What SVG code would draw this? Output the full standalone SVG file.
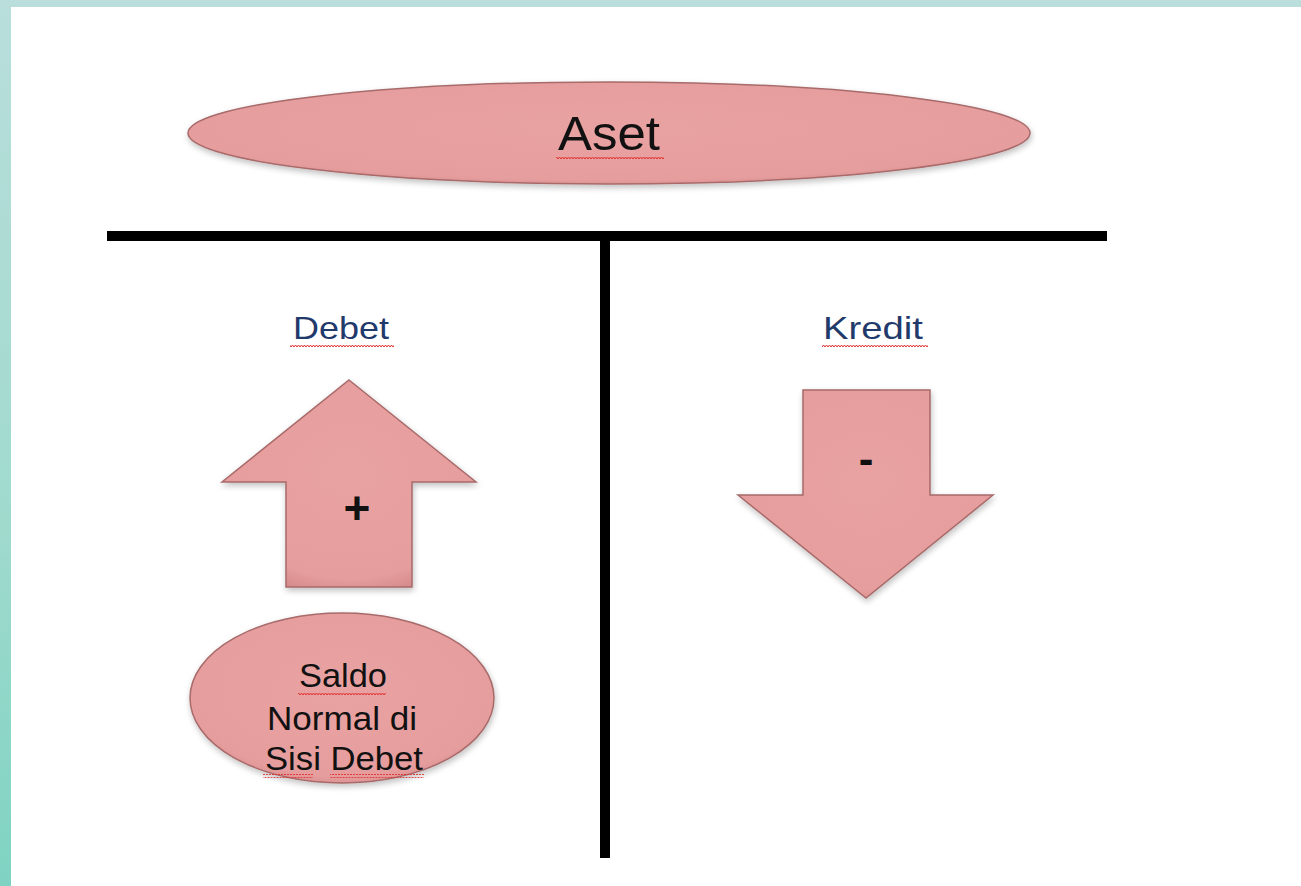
<svg xmlns="http://www.w3.org/2000/svg" width="1301" height="886" viewBox="0 0 1301 886">
<defs>
<linearGradient id="bg" x1="0" y1="0" x2="0" y2="1">
<stop offset="0" stop-color="#b9dedb"/>
<stop offset="0.6" stop-color="#9fdacd"/>
<stop offset="1" stop-color="#7fd3c2"/>
</linearGradient>
<radialGradient id="pink" cx="0.5" cy="0.45" r="0.6">
<stop offset="0" stop-color="#e9a2a2"/>
<stop offset="0.85" stop-color="#e69d9d"/>
<stop offset="1" stop-color="#d48a8a"/>
</radialGradient>
<filter id="sh" x="-10%" y="-10%" width="120%" height="130%">
<feGaussianBlur in="SourceAlpha" stdDeviation="3"/>
<feOffset dx="1" dy="3"/>
<feComponentTransfer><feFuncA type="linear" slope="0.25"/></feComponentTransfer>
<feMerge><feMergeNode/><feMergeNode in="SourceGraphic"/></feMerge>
</filter>
<pattern id="wavy" width="6" height="4" patternUnits="userSpaceOnUse">
<path d="M0 3 L1.5 1 L3 3 L4.5 1 L6 3" fill="none" stroke="#e03030" stroke-width="1"/>
</pattern>
</defs>
<style>
.shape{fill:url(#pink);stroke:#a86a6a;stroke-width:1.5;filter:url(#sh)}
.lbl{font-family:"Liberation Sans",Arial,sans-serif;fill:#111}
.hdr{font-family:"Liberation Sans",Arial,sans-serif;fill:#1f3a6b;font-size:32px}
.bar{fill:#000}
.wv{fill:url(#wavy)}
</style>
<rect x="0" y="0" width="1301" height="886" fill="url(#bg)"/>
<rect x="11" y="7" width="1290" height="879" fill="#ffffff"/>

<g id="connectors">
<rect class="bar" x="107" y="231" width="1000" height="10"/>
<rect class="bar" x="600" y="236" width="10" height="622"/>
</g>

<g id="aset">
<ellipse class="shape" cx="609" cy="133" rx="421" ry="51"/>
<text class="lbl" x="558" y="150" font-size="48" textLength="102" lengthAdjust="spacingAndGlyphs">Aset</text>
<rect class="wv" x="556" y="156" width="108" height="4"/>
</g>

<g id="debet">
<text class="hdr" x="293" y="339" textLength="96" lengthAdjust="spacingAndGlyphs">Debet</text>
<rect class="wv" x="290" y="343" width="104" height="4"/>
</g>

<g id="kredit">
<text class="hdr" x="823" y="339" textLength="100" lengthAdjust="spacingAndGlyphs">Kredit</text>
<rect class="wv" x="822" y="343" width="106" height="4"/>
</g>

<g id="arrow-up">
<polygon class="shape" points="349,380 476,482 412,482 412,587 286,587 286,482 222,482"/>
<text class="lbl" x="357" y="524" font-size="46" font-weight="bold" text-anchor="middle">+</text>
</g>

<g id="arrow-down">
<polygon class="shape" points="803,390 930,390 930,495 993,495 866,598 738,495 803,495"/>
<text class="lbl" x="866" y="474" font-size="44" font-weight="bold" text-anchor="middle">-</text>
</g>

<g id="saldo">
<ellipse class="shape" cx="342" cy="698" rx="152" ry="85"/>
<text class="lbl" x="299" y="687" font-size="33" textLength="88" lengthAdjust="spacingAndGlyphs">Saldo</text>
<text class="lbl" x="267" y="730" font-size="33" textLength="150" lengthAdjust="spacingAndGlyphs">Normal di</text>
<text class="lbl" x="265" y="770" font-size="33" textLength="158" lengthAdjust="spacingAndGlyphs">Sisi Debet</text>
<rect class="wv" x="298" y="691" width="88" height="4"/>
<rect class="wv" x="263" y="774" width="50" height="4"/>
<rect class="wv" x="330" y="774" width="94" height="4"/>
</g>
</svg>
